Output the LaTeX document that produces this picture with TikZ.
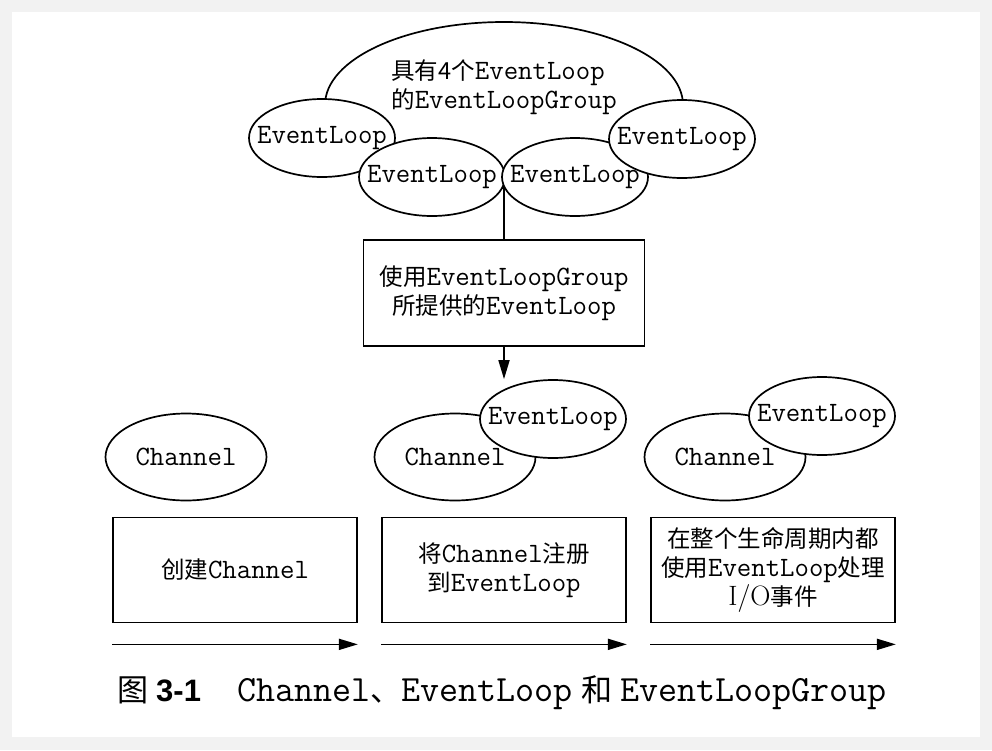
\documentclass[tikz,border=0pt]{standalone}
\usepackage{fontspec}
\usetikzlibrary{shapes.geometric,arrows.meta}
\newfontfamily\zhfont[Scale=0.84]{Noto Sans CJK SC}
\newfontfamily\numfont{Liberation Sans}
\newcommand\zh[1]{{\zhfont#1}}

\begin{document}
\begin{tikzpicture}[
            x=1pt, y=-1pt,
            line width=1.7pt,
            font=\ttfamily\fontsize{28}{29}\selectfont,
            loop/.style={ellipse, draw, fill=white, inner sep=0pt,
                minimum width=146, minimum height=78},
            chan/.style={ellipse, draw, fill=white, inner sep=0pt,
                minimum width=161, minimum height=87},
            stage/.style={draw, align=center, minimum width=244, minimum height=105},
            flow/.style={-{Triangle[length=19pt,width=11pt]}}
        ]
        \useasboundingbox (0,0) rectangle (992,750);
        \fill[black!5] (0,0) rectangle (992,750);
        \fill[white] (12,12) rectangle (980,737);

        % the group and its four loops
        \node (grp) [ellipse, draw, minimum width=358, minimum height=166] at (504,105) {};
        \node (grplbl) [align=left] at (504,87) {\zh{具有4个}EventLoop\\\zh{的}EventLoopGroup};
        \node (src) [stage, minimum width=281, minimum height=106] at (504,293)
            {\zh{使用}EventLoopGroup\\\zh{所提供的}EventLoop};
        \coordinate (fork) at (504,177);
        \draw (fork) -- (src.north);
        \node (E1) [loop] at (322,138) {\makebox[0pt]{EventLoop}};
        \node (E2) [loop] at (432,177) {\makebox[0pt]{EventLoop}};
        \node (E3) [loop] at (575,177) {\makebox[0pt]{EventLoop}};
        \node (E4) [loop] at (682,139) {\makebox[0pt]{EventLoop}};

        % channels
        \node (C1) [chan] at (186,457) {\makebox[0pt]{Channel}};
        \node (C2) [chan] at (455,457) {\makebox[0pt]{Channel}};
        \node (L2) [loop] at (553,419) {\makebox[0pt]{EventLoop}};
        \node (C3) [chan] at (725,457) {\makebox[0pt]{Channel}};
        \node (L3) [loop] at (822,416) {\makebox[0pt]{EventLoop}};
        \draw[flow] (src.south) -- (src.south |- L2.north);

        % stages
        \node (B1) [stage] at (235,570) {\zh{创建}Channel};
        \node (B2) [stage] at (504,570) {\zh{将}Channel\zh{注册}\\\zh{到}EventLoop};
        \node (B3) [stage] at (773,570)
            {\zh{在整个生命周期内都}\\\zh{使用}EventLoop\zh{处理}\\\textrm{I/O}\zh{事件}};
        \foreach \b in {B1,B2,B3}
            \draw[flow] ([yshift=-21pt]\b.south west) -- ([yshift=-21pt]\b.south east);

        \node (cap) [anchor=base, font=\ttfamily\fontsize{37}{40}\selectfont] at (502,701)
            {\zh{图}\hspace{8pt}{\numfont\bfseries\fontsize{31}{40}\selectfont 3-1}\hspace{36pt}Channel\zh{、}EventLoop\hspace{8pt}\zh{和}\hspace{8pt}EventLoopGroup};
\end{tikzpicture}
\end{document}
